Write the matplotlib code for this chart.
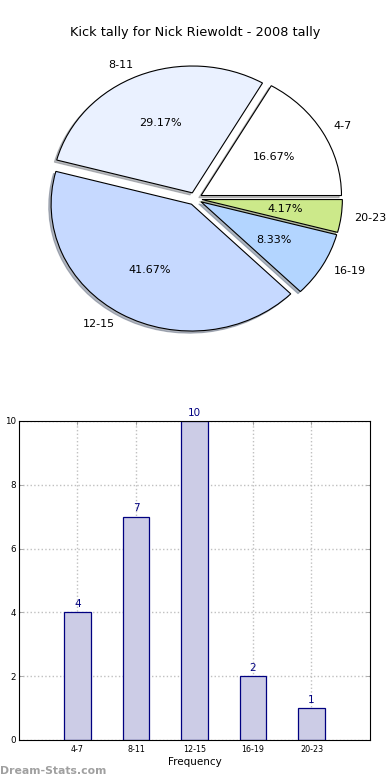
import numpy as np
import matplotlib
matplotlib.use('Agg')
import matplotlib.pyplot as plt

# kick tally ranges and games per range
categories = ['4-7', '8-11', '12-15', '16-19', '20-23']
counts = [4, 7, 10, 2, 1]
pie_colors = ['#ffffff', '#eaf1ff', '#c6d9ff', '#b3d5ff', '#cce98a']
title = 'Kick tally for Nick Riewoldt - 2008 tally'

fig = plt.figure(figsize=(3.9, 7.8), dpi=100)

# pie on top, old style (not equal aspect, limits +-1.25)
ax1 = fig.add_axes([0.05, 0.542, 0.9, 0.4065])
wedges, texts, autotexts = ax1.pie(counts, labels=categories, colors=pie_colors,
                                   explode=[0.05] * len(counts), autopct='%1.2f%%',
                                   shadow={'ox': -0.012, 'oy': -0.012, 'shade': 0.5},
                                   startangle=0, labeldistance=1.09,
                                   wedgeprops={'edgecolor': 'black', 'linewidth': 0.8},
                                   textprops={'fontsize': 8})
ax1.set_aspect('auto')
ax1.set_xlim(-1.25, 1.25)
ax1.set_ylim(-1.25, 1.25)
ax1.set_title(title, fontsize=9.3, pad=3)

# bar chart below
ax2 = fig.add_axes([0.0487, 0.0513, 0.9, 0.409])
x = np.arange(len(categories))
ax2.bar(x, counts, width=0.45, color='#ccccE6', edgecolor='#000080', linewidth=0.9, zorder=2)
for xi, c in zip(x, counts):
    ax2.text(xi, c + 0.1, str(c), ha='center', va='bottom', color='#000080', fontsize=7.5)
ax2.set_xlim(-1, 5)
ax2.set_ylim(0, 10)
ax2.set_xticks(x)
ax2.set_xticklabels(categories, fontsize=5.8)
ax2.set_yticks([0, 2, 4, 6, 8, 10])
ax2.tick_params(axis='y', labelsize=6.3, pad=2)
ax2.tick_params(direction='in', top=True, right=True, length=3, width=0.5, color='#888888')
ax2.grid(True, linestyle=':', color='#c0c0c0', linewidth=1, zorder=0)
ax2.set_axisbelow(True)
ax2.set_xlabel('Frequency', fontsize=7.5, labelpad=2)
ax2.set_ylabel('Number of Games', fontsize=7)
ax2.yaxis.set_label_coords(-0.05, 0.5)

fig.text(0.0, 0.008, 'Dream-Stats.com', color='#a0a0a0', fontsize=7.8, fontweight='bold')

fig.savefig('out.png', dpi=100)
